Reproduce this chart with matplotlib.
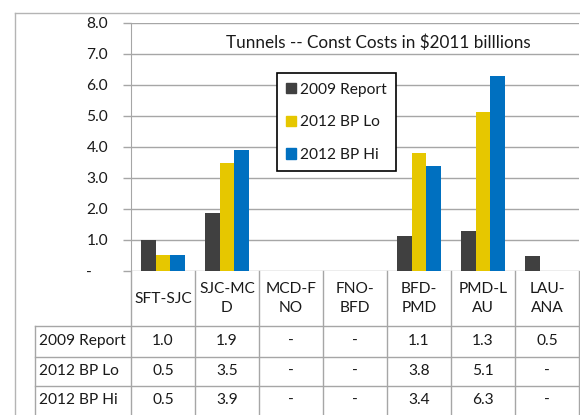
import matplotlib.pyplot as plt
import matplotlib.transforms as mtransforms
from matplotlib.lines import Line2D
from matplotlib.patches import Patch
import numpy as np

plt.rcParams['font.family'] = ['Lato', 'DejaVu Sans']

# data
categories = ['SFT-SJC', 'SJC-MC\nD', 'MCD-F\nNO', 'FNO-\nBFD', 'BFD-\nPMD', 'PMD-L\nAU', 'LAU-\nANA']
series_names = ['2009 Report', '2012 BP Lo', '2012 BP Hi']
report_2009 = [1.0, 1.86, np.nan, np.nan, 1.11, 1.29, 0.49]
bp_lo_2012 = [0.5, 3.47, np.nan, np.nan, 3.80, 5.12, np.nan]
bp_hi_2012 = [0.5, 3.91, np.nan, np.nan, 3.37, 6.28, np.nan]
y_ticks = [0, 1, 2, 3, 4, 5, 6, 7, 8]
colors = ['#404040', '#E6C700', '#0070C0']
title = 'Tunnels -- Const Costs in $2011 billlions'

W, H = 580, 415
FS = 11.2
GRID = '#a6a6a6'
TXT = '#1a1a1a'

fig = plt.figure(figsize=(W / 100, H / 100), dpi=100)
ax = fig.add_axes([131 / W, (H - 270.7) / H, 448 / W, 247.7 / H])

series = [report_2009, bp_lo_2012, bp_hi_2012]
x = np.arange(len(categories))
bw = 0.225
for k, (name, vals, c) in enumerate(zip(series_names, series, colors)):
    ax.bar(x + (k - 1) * bw, vals, width=bw, color=c, label=name, zorder=3)

ax.set_xlim(-0.5, len(categories) - 0.5)
ax.set_ylim(0, 8)
ax.set_yticks(y_ticks)
ax.set_yticklabels(['-    ' if v == 0 else f'{v:.1f}' for v in y_ticks],
                   fontsize=FS, color=TXT)
ax.set_xticks([])
ax.tick_params(axis='y', length=6, width=1, color=GRID, pad=10.5)
ax.yaxis.grid(True, color=GRID, lw=1, zorder=0)
for s in ['top', 'right', 'bottom']:
    ax.spines[s].set_visible(False)
ax.spines['left'].set_color(GRID)

ax.text(378 / W, 1 - 43 / H, title, transform=fig.transFigure, ha='center',
        va='center', fontsize=12.3, color=TXT)

handles = [Patch(color=c) for c in colors]
leg = ax.legend(handles, series_names, loc='upper left',
                bbox_to_anchor=(276.7 / W, 1 - 73.3 / H),
                bbox_transform=fig.transFigure, borderaxespad=0,
                fancybox=False, edgecolor='black', framealpha=1,
                fontsize=FS, handlelength=0.62, handleheight=0.62,
                handletextpad=0.3, labelspacing=1.2, borderpad=0.6)
leg.get_frame().set_linewidth(1.2)
for t in leg.get_texts():
    t.set_color(TXT)

# data table under the axis
tr = mtransforms.blended_transform_factory(ax.transData, fig.transFigure)


def fy(py):
    return 1 - py / H


def hline(x0, x1, py):
    fig.add_artist(Line2D([x0, x1], [fy(py), fy(py)], transform=tr,
                          color=GRID, lw=1))


def vline(xd, py0, py1):
    fig.add_artist(Line2D([xd, xd], [fy(py0), fy(py1)], transform=tr,
                          color=GRID, lw=1))


n = len(categories)
for i in range(n + 1):
    vline(i - 0.5, 270.7, H)
vline(-2.0, 326, H)
for py in [326, 356.7, 385.7]:
    hline(-2.0, n - 0.5, py)

for i, cat in enumerate(categories):
    ax.text(i, fy(298.5), cat, transform=tr, ha='center', va='center',
            fontsize=FS, color=TXT, linespacing=1.4)

row_y = [341, 371, 400]
for name, vals, py in zip(series_names, series, row_y):
    ax.text(-1.93, fy(py), name, transform=tr, ha='left', va='center',
            fontsize=FS, color=TXT)
    for i, v in enumerate(vals):
        s = '-' if np.isnan(v) else f'{v:.1f}'
        ax.text(i, fy(py), s, transform=tr, ha='center', va='center',
                fontsize=FS, color=TXT)

# outer chart frame
fig.add_artist(Line2D([14.7 / W, 14.7 / W], [0, fy(13)], color='#b4b4b4', lw=1))
fig.add_artist(Line2D([14.7 / W, 1], [fy(13), fy(13)], color='#b4b4b4', lw=1))

fig.savefig('out.png', dpi=100)
